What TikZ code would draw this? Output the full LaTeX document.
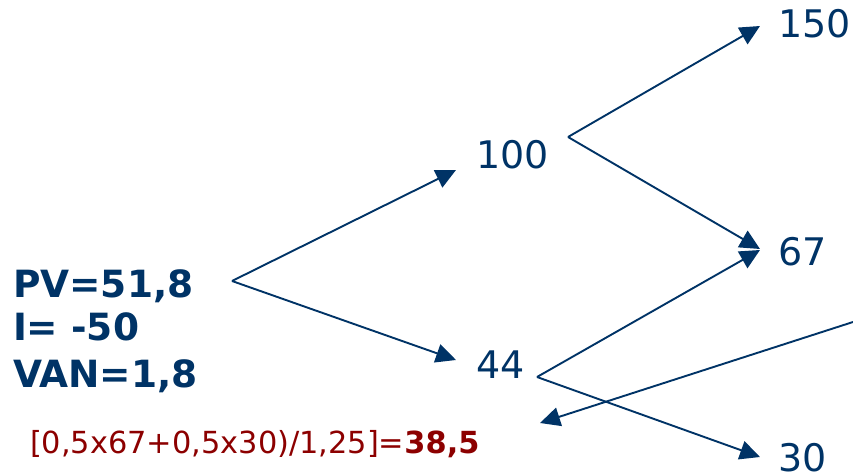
\documentclass[tikz,border=0pt]{standalone}
\usepackage{fontspec}
\setmainfont{DejaVu Sans}
\usetikzlibrary{arrows.meta}
\definecolor{navy}{RGB}{0,51,102}
\definecolor{dred}{RGB}{140,0,0}
\begin{document}
\begin{tikzpicture}[x=1pt,y=-1pt,
  lbl/.style={anchor=base west,inner sep=0pt,outer sep=0pt,text=navy,font=\fontsize{38}{45}\selectfont},
  blbl/.style={lbl,font=\fontsize{37.5}{45}\selectfont\bfseries},
  conn/.style={draw=navy,line width=1.9pt,-{Triangle[length=20pt,width=19pt]}}]
\useasboundingbox (0,0) rectangle (853,473);
% labels
\node[blbl] (pv) at (13,297) {PV=51,8};
\node[blbl] (inv) at (13,340) {I= -50};
\node[blbl] (van) at (13,387) {VAN=1,8};
\node[lbl] (n100) at (476,168) {100};
\node[lbl] (n44) at (476,378) {44};
\node[lbl] (n150) at (778,38) {150};
\node[lbl] (n67) at (778,265) {67};
\node[lbl] (n30) at (778,471) {30};
\node[lbl,text=dred,font=\fontsize{30.4}{37}\selectfont] (calc) at (30,453) {[0,5x67+0,5x30)/1,25]=\textbf{38,5}};
% fork points and tips
\coordinate (f0) at (232,281);
\coordinate (f100) at (568,137);
\coordinate (f44) at (537,377);
\coordinate (t100) at (456,170);
\coordinate (t44) at (456,360);
\coordinate (t150) at (760,26);
\coordinate (t67a) at (760,249);
\coordinate (t67b) at (760,250);
\coordinate (t30) at (760,457);
\coordinate (src) at (853,322);
\coordinate (tcalc) at (540,423);
% connectors
\draw[conn] (f0) -- (t100);
\draw[conn] (f0) -- (t44);
\draw[conn] (f100) -- (t150);
\draw[conn] (f100) -- (t67a);
\draw[conn] (f44) -- (t67b);
\draw[conn] (f44) -- (t30);
\draw[conn] (src) -- (tcalc);
\end{tikzpicture}
\end{document}
